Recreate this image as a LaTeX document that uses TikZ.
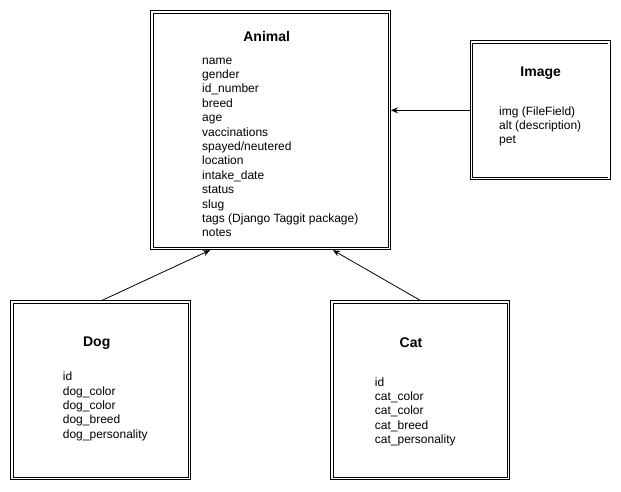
\documentclass[tikz,border=0pt]{standalone}
\usepackage{fontspec}
\setmainfont{Liberation Sans}
\usetikzlibrary{arrows,arrows.meta,positioning}

\begin{document}
\begin{tikzpicture}
[x=1pt,y=-1pt,
entity/.style={shape=rectangle,draw,double,double distance=1.6pt,
  line width=0.9pt,outer sep=1.6pt},
title/.style={anchor=base,inner sep=0pt,font=\bfseries\fontsize{14}{17}\selectfont},
fields/.style={anchor=base west,align=left,inner sep=0pt,
  font=\fontsize{12}{14.4}\selectfont},
link/.style={draw,line width=0.8pt,-{Stealth[length=7pt,width=6pt]}}]
\useasboundingbox (0,0) rectangle (621,491);

% fields nodes sit on the baseline of their last line
\draw (270.7,130.3) node (animal) [entity,minimum width=237.3pt,minimum height=236.6pt] {};
\draw (266.7,41.7) node (animaltitle) [title] {Animal};
\draw (202,236.8) node (animalfields) [fields] {name\\gender\\id\_number\\breed\\age\\
  vaccinations\\spayed/neutered\\location\\intake\_date\\status\\slug\\
  tags (Django Taggit package)\\notes};

\draw (540.3,110.3) node (image) [entity,minimum width=137.9pt,minimum height=136.6pt] {};
\draw (540.7,76) node (imagetitle) [title] {Image};
\draw (499,143.8) node (imagefields) [fields] {img (FileField)\\alt (description)\\pet};

\draw (100.7,390.3) node (dog) [entity,minimum width=177.3pt,minimum height=176.6pt] {};
\draw (96.7,346.5) node (dogtitle) [title] {Dog};
\draw (62.7,438.3) node (dogfields) [fields] {id\\dog\_color\\dog\_color\\dog\_breed\\
  dog\_personality};

\draw (420.3,390.3) node (cat) [entity,minimum width=176.6pt,minimum height=176.6pt] {};
\draw (411,347) node (cattitle) [title] {Cat};
\draw (374.7,443.6) node (catfields) [fields] {id\\cat\_color\\cat\_color\\cat\_breed\\
  cat\_personality};

% links
\draw [link] (image.west) -- (animal.east |- image.west);
\draw [link] ([xshift=1.3pt]dog.north) -- ([xshift=-60.7pt]animal.south);
\draw [link] (cat.north) -- ([xshift=62.3pt]animal.south);
\end{tikzpicture}
\end{document}
